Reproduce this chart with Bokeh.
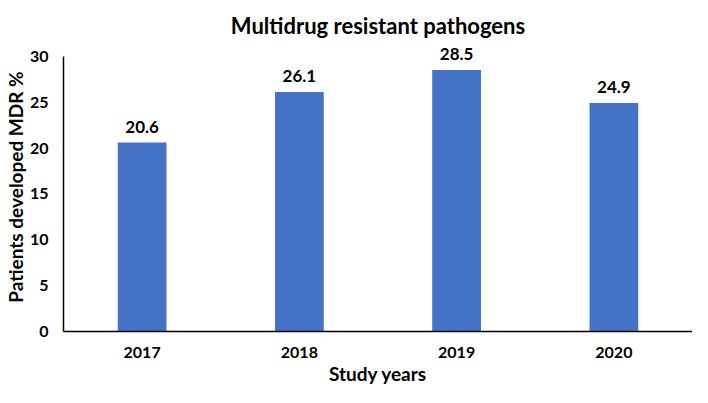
from bokeh.plotting import figure
from bokeh.models import ColumnDataSource, FactorRange, Range1d, SingleIntervalTicker, LabelSet
from bokeh.embed import file_html
from bokeh.resources import INLINE
from bokeh.core.properties import value

years = ["2017", "2018", "2019", "2020"]
mdr_pct = [20.6, 26.1, 28.5, 24.9]
labels = ["20.6", "26.1", "28.5", "24.9"]

FONT = "Lato"

src = ColumnDataSource(dict(x=years, y=mdr_pct, lab=labels))

p = figure(width=692, height=387, x_range=FactorRange(*years),
           y_range=Range1d(0, 31.5), output_backend="svg", toolbar_location=None,
           title="Multidrug resistant pathogens",
           min_border_left=53, min_border_right=0, min_border_top=42, min_border_bottom=52)

p.vbar(x="x", top="y", width=0.31, source=src, fill_color="#4472C4", line_color=None)
p.add_layout(LabelSet(x="x", y="y", text="lab", source=src, text_align="center",
                      text_baseline="bottom", y_offset=10, text_font=value(FONT),
                      text_font_style="bold", text_font_size="17px", text_color="#000000"))

p.title.align = "center"
p.title.text_font = FONT
p.title.text_font_size = "22px"
p.title.text_font_style = "bold"
p.title.text_color = "#000000"
p.title.standoff = 8

p.xgrid.visible = False
p.ygrid.visible = False
p.outline_line_color = None

p.yaxis.ticker = SingleIntervalTicker(interval=5)
p.yaxis.bounds = (0, 30)
for ax in (p.xaxis[0], p.yaxis[0]):
    ax.axis_line_color = "#000000"
    ax.axis_line_width = 1.5
    ax.major_tick_line_color = None
    ax.minor_tick_line_color = None
    ax.major_label_text_font = FONT
    ax.major_label_text_font_style = "bold"
    ax.major_label_text_font_size = "16px"
    ax.major_label_text_color = "#000000"
    ax.axis_label_text_font = FONT
    ax.axis_label_text_font_style = "bold"
    ax.axis_label_text_font_size = "19px"
    ax.axis_label_text_color = "#000000"

p.xaxis.axis_label = "Study years"
p.yaxis.axis_label = "Patients developed MDR %"
p.xaxis.major_label_standoff = 9
p.yaxis.major_label_standoff = 9
p.xaxis.axis_label_standoff = 1
p.yaxis.axis_label_standoff = 0

open("out.html", "w").write(file_html(p, INLINE))
